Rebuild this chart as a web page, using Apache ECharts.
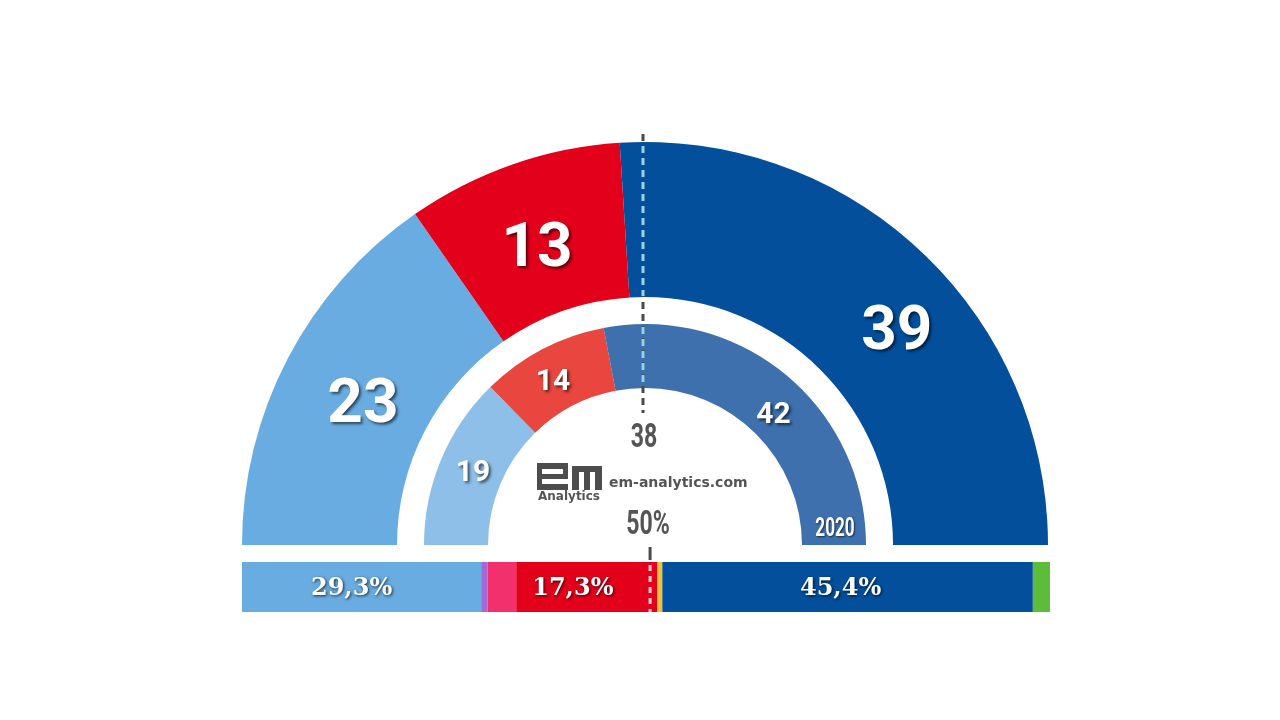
<!DOCTYPE html>
<html><head><meta charset="utf-8">
<script src="https://cdn.jsdelivr.net/npm/echarts@6/dist/echarts.min.js"></script>
<style>html,body{margin:0;padding:0;background:#fff}#c{width:1280px;height:720px}</style>
</head><body><div id="c"></div>
<script>
// Seats 2024 (outer ring) and 2020 (inner ring)
const seatParties = ['BNG', 'PSdeG', 'PP'];
const seats2024 = [23, 13, 39];
const seats2020 = [19, 14, 42];
// Vote share bar
const voteParties = ['BNG', 'Podemos', 'Sumar', 'PSdeG', 'DO', 'PP', 'Vox'];
const voteShares = [29.3, 0.8, 3.5, 17.3, 0.6, 45.4, 2.1];
const voteLabels = ['29,3%', '', '', '17,3%', '', '45,4%', ''];
const majoritySeats = 38;
const halfShare = 50;
const innerYear = '2020';

const outerColors = ['#69ace1', '#e2001a', '#034f9c'];
const innerColors = ['#8dbfe8', '#e8463f', '#3d70ad'];
const barColors = ['#69ace1', '#a06ad6', '#f2306e', '#e2001a', '#f1c232', '#034f9c', '#5bbd3a'];

const CX = 645, CY = 545;
const narrow = "Roboto,'Liberation Sans',sans-serif";
const slab = "'DejaVu Serif',serif";
const shadow = {textShadowColor: 'rgba(0,0,0,0.6)', textShadowBlur: 3, textShadowOffsetX: 2, textShadowOffsetY: 2};

const chart = echarts.init(document.getElementById('c'));
const total = voteShares.reduce((a, b) => a + b, 0);

const outerOffsets = [[9, 14], [0, 16], [27, 28]];
const innerOffsets = [[5, 3], [-3, 8], [6, 18]];
const barLabelOffsets = [[-10, 2], [0, 0], [0, 0], [-14, 2], [0, 0], [-7, 2], [0, 0]];

const option = {
  backgroundColor: '#fff',
  animation: false,
  grid: {left: 242, right: 230, top: 562, height: 50},
  xAxis: {type: 'value', min: 0, max: total, show: false},
  yAxis: {type: 'category', data: ['votes'], show: false},
  series: [
    {
      type: 'pie', center: [CX, CY], radius: [248, 403], startAngle: 180, endAngle: 0,
      clockwise: true, silent: true,
      itemStyle: {borderWidth: 0},
      label: {show: true, position: 'inside', formatter: '{c}', color: '#fff', fontFamily: narrow,
        fontWeight: 'bold', fontSize: 62, ...shadow},
      labelLine: {show: false},
      data: seatParties.map((n, i) => ({name: n, value: seats2024[i], itemStyle: {color: outerColors[i]},
        label: {offset: outerOffsets[i]}}))
    },
    {
      type: 'pie', center: [CX, CY], radius: [157, 221], startAngle: 180, endAngle: 0,
      clockwise: true, silent: true,
      itemStyle: {borderWidth: 0},
      label: {show: true, position: 'inside', formatter: '{c}', color: '#fff', fontFamily: narrow,
        fontWeight: 'bold', fontSize: 30, ...shadow},
      labelLine: {show: false},
      data: seatParties.map((n, i) => ({name: n, value: seats2020[i], itemStyle: {color: innerColors[i]},
        label: {offset: innerOffsets[i]}}))
    },
    ...voteParties.map((n, i) => ({
      type: 'bar', name: n, stack: 'v', barWidth: 50, silent: true,
      itemStyle: {color: barColors[i]},
      label: {show: voteLabels[i] !== '', position: 'inside', formatter: () => voteLabels[i],
        offset: barLabelOffsets[i],
        color: '#fff', fontFamily: slab, fontWeight: 'bold', fontSize: 24,
        textShadowColor: 'rgba(0,0,0,0.75)', textShadowBlur: 3, textShadowOffsetX: 1, textShadowOffsetY: 1},
      data: [voteShares[i]]
    }))
  ]
};
chart.setOption(option);

const xHalf = chart.convertToPixel({xAxisIndex: 0}, halfShare);
const LX = CX - 2;

chart.setOption({
  graphic: [
    // majority dashed line
    {type: 'line', shape: {x1: LX, y1: 134, x2: LX, y2: 413}, style: {stroke: '#4a4a4a', lineWidth: 3, lineDash: [7, 5]}, z: 10},
    {type: 'line', shape: {x1: LX, y1: 146, x2: LX, y2: 296}, style: {stroke: '#8fd4f2', lineWidth: 3, lineDash: [7, 5]}, z: 11},
    {type: 'line', shape: {x1: LX, y1: 327, x2: LX, y2: 386}, style: {stroke: '#8fd4f2', lineWidth: 3, lineDash: [7, 5]}, z: 11},
    {type: 'text', x: CX - 1, y: 438, scaleX: 0.68, style: {text: String(majoritySeats), fill: '#555', font: "bold 34px " + narrow, align: 'center', verticalAlign: 'middle'}, z: 10},
    {type: 'text', x: xHalf - 2, y: 525, scaleX: 0.68, style: {text: halfShare + '%', fill: '#555', font: "bold 34px " + narrow, align: 'center', verticalAlign: 'middle'}, z: 10},
    {type: 'text', x: 835, y: 529, scaleX: 0.66, style: {text: innerYear, fill: '#fff', font: "bold 26px " + narrow, align: 'center', verticalAlign: 'middle', textShadowColor: 'rgba(0,0,0,0.6)', textShadowBlur: 2, textShadowOffsetX: 1, textShadowOffsetY: 1}, z: 10},
    // half-share dashed line
    {type: 'line', shape: {x1: xHalf, y1: 547, x2: xHalf, y2: 560}, style: {stroke: '#4a4a4a', lineWidth: 3}, z: 10},
    {type: 'line', shape: {x1: xHalf, y1: 565, x2: xHalf, y2: 612}, style: {stroke: '#ffd0d8', lineWidth: 3, lineDash: [6, 5]}, z: 10},
    // logo
    {type: 'rect', shape: {x: 537, y: 463, width: 31, height: 27}, style: {fill: '#4d4d4d'}, z: 10},
    {type: 'rect', shape: {x: 542, y: 469, width: 21, height: 5}, style: {fill: '#fff'}, z: 11},
    {type: 'rect', shape: {x: 542, y: 479, width: 26, height: 5}, style: {fill: '#fff'}, z: 11},
    {type: 'rect', shape: {x: 572, y: 466, width: 30, height: 24}, style: {fill: '#4d4d4d'}, z: 10},
    {type: 'rect', shape: {x: 579, y: 472, width: 5, height: 18}, style: {fill: '#fff'}, z: 11},
    {type: 'rect', shape: {x: 590, y: 472, width: 5, height: 18}, style: {fill: '#fff'}, z: 11},
    {type: 'text', x: 569, y: 497, style: {text: 'Analytics', fill: '#555', font: "bold 12px 'DejaVu Sans',sans-serif", align: 'center', verticalAlign: 'middle'}, z: 10},
    {type: 'text', x: 609, y: 483, style: {text: 'em-analytics.com', fill: '#555', font: "bold 14px 'DejaVu Sans',sans-serif", align: 'left', verticalAlign: 'middle'}, z: 10}
  ]
});
</script>
</body></html>
